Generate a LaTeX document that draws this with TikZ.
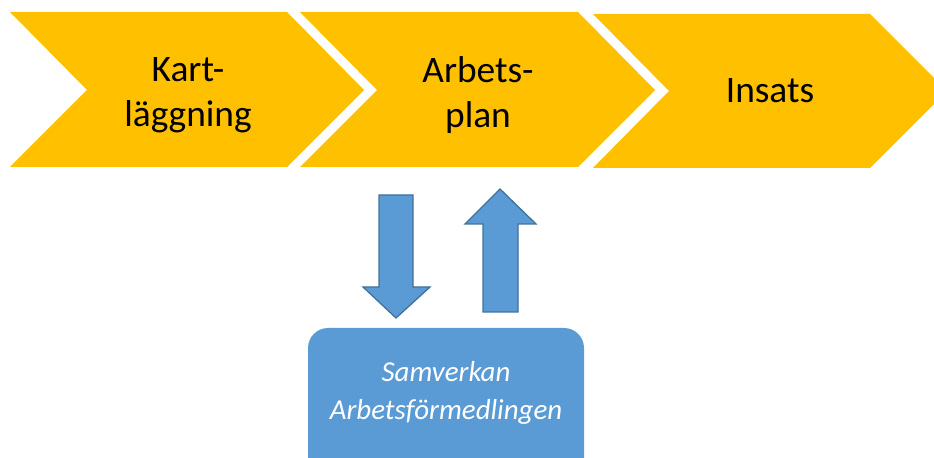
\documentclass[tikz,border=0pt]{standalone}
\usepackage{fontspec}
\setmainfont{Carlito}
\definecolor{chev}{HTML}{FFC000}
\definecolor{blu}{HTML}{5B9BD5}
\definecolor{bluedge}{HTML}{41719C}
\begin{document}
\begin{tikzpicture}[x=1bp,y=-1bp,
  chevron/.style={fill=chev, draw=none},
  lbl/.style={align=center, text=black, font=\fontsize{37.5}{45}\selectfont, inner sep=0pt},
  blockarrow/.style={fill=blu, draw=bluedge, line width=1.3bp, line join=miter},
  boxtxt/.style={align=center, text=white, font=\fontsize{29}{38}\selectfont\itshape, inner sep=0pt}]
\useasboundingbox (0,0) rectangle (934,458);
\clip (0,0) rectangle (934,458);
% chevrons
\fill[chevron] (10,12) -- (287,12) -- (364,90) -- (287,167) -- (10,167) -- (87,90) -- cycle;
\fill[chevron] (300,12) -- (578,12) -- (655,90) -- (578,167) -- (300,167) -- (377,90) -- cycle;
\fill[chevron] (593,14) -- (870,14) -- (947,91) -- (870,168) -- (593,168) -- (669,91) -- cycle;
\node[lbl] (kart) at (188,95) {Kart-\\läggning};
\node[lbl] (arb) at (478,95) {Arbets-\\plan};
\node[lbl, anchor=base] (ins) at (770,103) {Insats};
% block arrows
\draw[blockarrow] (379,195) -- (413,195) -- (413,287) -- (430,287) -- (396,318) -- (363,287) -- (379,287) -- cycle;
\draw[blockarrow] (483,312) -- (518,312) -- (518,224) -- (536,224) -- (500,189) -- (465,224) -- (483,224) -- cycle;
% box
\fill[blu, rounded corners=20bp] (308,328) rectangle (584,490);
\node[boxtxt] (samv) at (446,393) {Samverkan\\Arbetsförmedlingen};
\end{tikzpicture}
\end{document}
